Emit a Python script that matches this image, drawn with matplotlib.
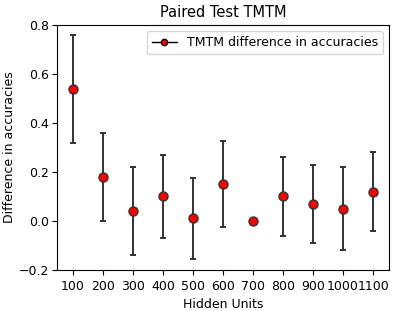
import matplotlib
matplotlib.use('Agg')
import matplotlib.pyplot as plt
from matplotlib.lines import Line2D
import numpy as np

hidden_units = [100, 200, 300, 400, 500, 600, 700, 800, 900, 1000, 1100]
diff_acc = [0.54, 0.18, 0.04, 0.10, 0.01, 0.15, 0.0, 0.10, 0.07, 0.05, 0.12]
diff_err = [0.22, 0.18, 0.18, 0.17, 0.165, 0.175, 0.0, 0.16, 0.16, 0.17, 0.16]

plt.rcParams['font.size'] = 9

fig = plt.figure(figsize=(3.99, 3.11), dpi=100)
ax = fig.add_subplot(111)
ax.errorbar(hidden_units, diff_acc, yerr=diff_err, fmt='o', color='black',
            ecolor='#333333', elinewidth=1.4, capsize=2, capthick=1.4,
            markerfacecolor='red', markeredgecolor='#333333', markersize=6.5)
handle = Line2D([], [], color='black', lw=1, marker='o', markersize=4.5,
                markerfacecolor='red', markeredgecolor='black')
ax.legend([handle], ['TMTM difference in accuracies'], loc='upper right')
ax.set_xticks(hidden_units)
ax.set_ylim(-0.2, 0.8)
ax.set_xlim(47, 1153)
ax.tick_params(axis='y', pad=2.5)
ax.set_xlabel('Hidden Units')
ax.set_ylabel('Difference in accuracies', labelpad=2)
ax.set_title('Paired Test TMTM', fontsize=10.5)
fig.subplots_adjust(left=0.143, right=0.975, top=0.92, bottom=0.132)
fig.savefig('out.png')
